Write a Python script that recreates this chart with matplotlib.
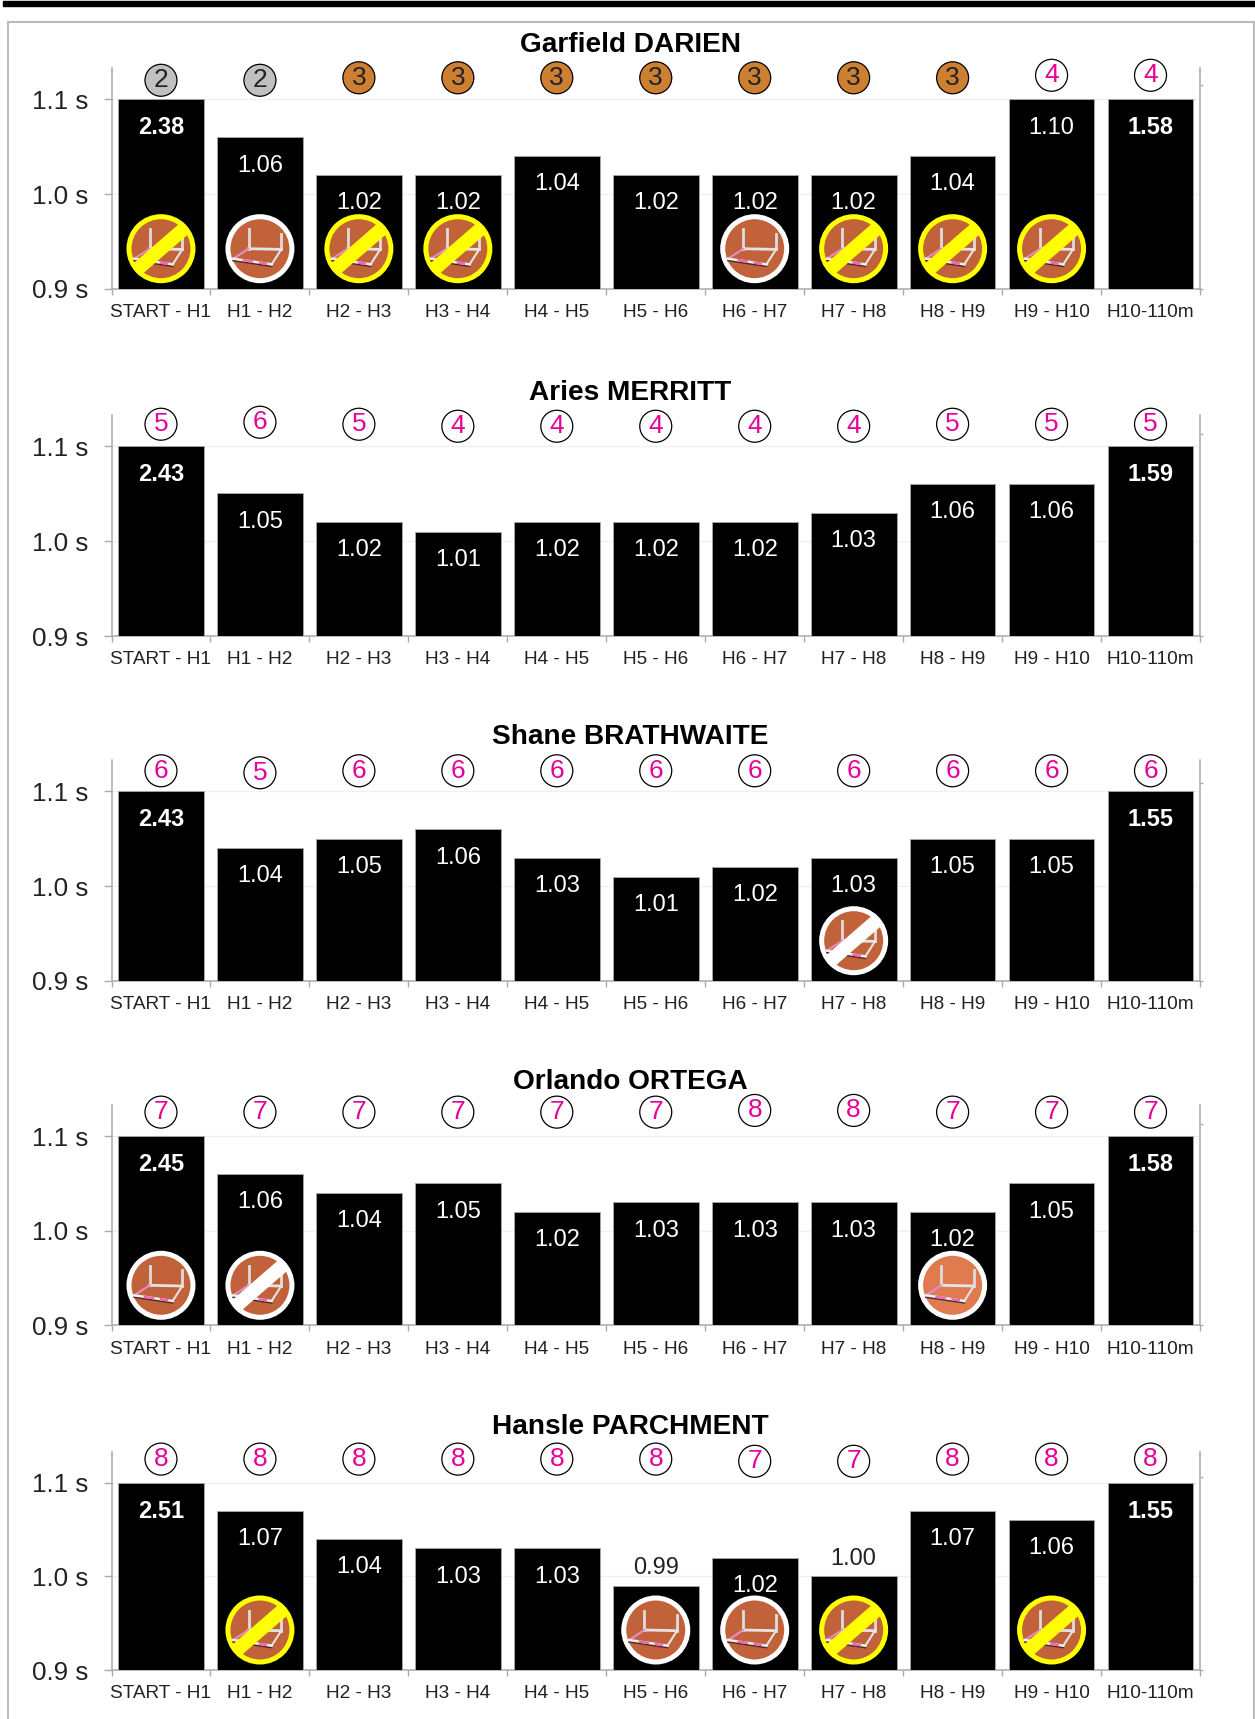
import numpy as np
import matplotlib.pyplot as plt
from matplotlib.lines import Line2D
from matplotlib.patches import Circle, Rectangle
from matplotlib.transforms import Affine2D

plt.rcParams['font.family'] = ['Liberation Sans', 'DejaVu Sans']

segments = ["START - H1", "H1 - H2", "H2 - H3", "H3 - H4", "H4 - H5", "H5 - H6",
            "H6 - H7", "H7 - H8", "H8 - H9", "H9 - H10", "H10-110m"]
names = ["Garfield DARIEN", "Aries MERRITT", "Shane BRATHWAITE", "Orlando ORTEGA", "Hansle PARCHMENT"]

times_darien = [2.38, 1.06, 1.02, 1.02, 1.04, 1.02, 1.02, 1.02, 1.04, 1.10, 1.58]
times_merritt = [2.43, 1.05, 1.02, 1.01, 1.02, 1.02, 1.02, 1.03, 1.06, 1.06, 1.59]
times_brathwaite = [2.43, 1.04, 1.05, 1.06, 1.03, 1.01, 1.02, 1.03, 1.05, 1.05, 1.55]
times_ortega = [2.45, 1.06, 1.04, 1.05, 1.02, 1.03, 1.03, 1.03, 1.02, 1.05, 1.58]
times_parchment = [2.51, 1.07, 1.04, 1.03, 1.03, 0.99, 1.02, 1.00, 1.07, 1.06, 1.55]

ranks_darien = [2, 2, 3, 3, 3, 3, 3, 3, 3, 4, 4]
ranks_merritt = [5, 6, 5, 4, 4, 4, 4, 4, 5, 5, 5]
ranks_brathwaite = [6, 5, 6, 6, 6, 6, 6, 6, 6, 6, 6]
ranks_ortega = [7, 7, 7, 7, 7, 7, 8, 8, 7, 7, 7]
ranks_parchment = [8, 8, 8, 8, 8, 8, 7, 7, 8, 8, 8]

# p = hurdle hit, l = same with lighter track, y = yellow slash, w = white slash
hurdles_darien = ["y", "p", "y", "y", "", "", "p", "y", "y", "y", ""]
hurdles_merritt = [""] * 11
hurdles_brathwaite = ["", "", "", "", "", "", "", "w", "", "", ""]
hurdles_ortega = ["p", "w", "", "", "", "", "", "", "l", "", ""]
hurdles_parchment = ["", "y", "", "", "", "p", "p", "y", "", "y", ""]

all_times = [times_darien, times_merritt, times_brathwaite, times_ortega, times_parchment]
all_ranks = [ranks_darien, ranks_merritt, ranks_brathwaite, ranks_ortega, ranks_parchment]
all_hurdles = [hurdles_darien, hurdles_merritt, hurdles_brathwaite, hurdles_ortega, hurdles_parchment]

# layout in pixels of the 1255x1719 picture
W, H = 1255, 1719
base_px = [288.7, 636, 980.7, 1325.3, 1670]
top_bar_px = [99.3, 446, 791.3, 1136, 1482.7]
title_px = [45, 393, 737, 1082, 1427]
rank_lims = [(-81.5, 6.8), (-100.5, 9.6), (-99.1, 11.25), (-118.6, 11.2), (-88.9, 11.4)]

GREY = "#aaaaaa"
PINK = "#e6009a"
medal = {2: "#c0c0c0", 3: "#cd7f32"}


def draw_hurdle(ax, x, y, kind):
    # icon is built in pixels around its centre
    cx, cy = ax.transData.transform((x, y))
    tr = Affine2D().translate(cx, cy)
    track = "#e07a4f" if kind == "l" else "#c2623b"
    ring = "#ffff00" if kind == "y" else "white"
    disc = Circle((0, 0), 32, facecolor=track, edgecolor=ring, linewidth=3.6,
                  transform=tr, zorder=5, clip_on=False)
    ax.add_artist(disc)
    parts = [([-26.7, 11.7], [-11.8, -17.5], "#4a2a20", 1.3),
             ([-11.3, -11.3], [19.3, 0], "#dddddd", 2),
             ([21.3, 21.3], [15, -0.7], "#dddddd", 2),
             ([-11.3, 21.3], [0, -0.7], "#e4e4e4", 2),
             ([21.3, 11.7], [-0.7, -15.7], "#e4e4e4", 1.5),
             ([-11.3, -26.7], [0, -10], "#e88bc8", 1.5),
             ([-26.7, 11.7], [-10, -15.7], "#eeeeee", 1.8),
             ([-16, -8], [-11.6, -12.8], "#ee66bb", 1.8),
             ([0, 6], [-14, -14.9], "#ee66bb", 1.8)]
    for xs, ys, col, lw in parts:
        ax.add_artist(Line2D(xs, ys, color=col, linewidth=lw, transform=tr, zorder=6, clip_on=False))
    if kind in ("y", "w"):
        slash = Line2D([-30, 30], [-26, 26], color=ring, linewidth=10, transform=tr,
                       zorder=7, solid_capstyle="butt")
        ax.add_artist(slash)
        slash.set_clip_path(Circle((0, 0), 32, transform=tr))


fig = plt.figure(figsize=(W / 100, H / 100), dpi=100)
fig.add_artist(Rectangle((8 / W, -0.01), (1254 - 8) / W, 1.01 - 22 / H, fill=False,
                         edgecolor="#bbbbbb", linewidth=1.5, transform=fig.transFigure))
fig.add_artist(Rectangle((3 / W, 1 - 6 / H), 1, 5 / H, color="black", transform=fig.transFigure))

x = np.arange(len(segments))
for n in range(5):
    times = np.array(all_times[n])
    ranks = np.array(all_ranks[n])
    base, bar_top = base_px[n], top_bar_px[n]
    spine_top = bar_top - 31
    ax = fig.add_axes([111.5 / W, 1 - base / H, (1200 - 111.5) / W, (base - spine_top) / H])
    ax.set_xlim(-0.5, 10.5)
    ax.set_ylim(0.9, 0.9 + 0.2 * (base - spine_top) / (base - bar_top))

    ax.bar(x, np.minimum(times, 1.1), width=0.866, color="black", edgecolor=GREY, linewidth=0.6, zorder=3)

    ax.set_yticks([0.9, 1.0, 1.1], ["0.9 s", "1.0 s", "1.1 s"], fontsize=18.7, color="#222222")
    ax.set_xticks(x, segments, fontsize=13.7, color="#222222")
    ax.set_xticks(np.r_[-0.5, x + 0.5], minor=True)
    ax.tick_params(axis="x", which="major", length=0, pad=11)
    ax.tick_params(axis="x", which="minor", length=4, width=1, color=GREY)
    ax.tick_params(axis="y", length=6, width=1, color=GREY, pad=11)
    ax.grid(axis="y", color="#f0f0f0", linewidth=1)
    ax.set_axisbelow(True)
    ax.spines["top"].set_visible(False)
    ax.spines["right"].set_visible(False)
    ax.spines["left"].set_color(GREY)
    ax.spines["bottom"].set_color(GREY)
    ax.spines["left"].set_linewidth(1.1)
    ax.spines["bottom"].set_linewidth(1.1)

    for i, kind in enumerate(all_hurdles[n]):
        if kind:
            icon_y = 0.9 + 0.2 * 40 / (base - bar_top)
            draw_hurdle(ax, i, icon_y, kind)

    for i, t in enumerate(times):
        bold = i in (0, 10)
        shown = min(t, 1.1)
        if t > 1.005:
            off, col = -20.4, "white"
        else:
            off, col = 12.8, "#222222"
        ax.annotate(f"{t:.2f}", (i, shown), xytext=(0, off), textcoords="offset points",
                    ha="center", va="center", fontsize=17, color=col,
                    fontweight="bold" if bold else "normal", zorder=8)

    # positions in the race, on their own axis
    ax2 = ax.twinx()
    ax2.set_ylim(*rank_lims[n])
    ax2.set_yticks([rank_lims[n][0], 0], ["", ""])
    ax2.tick_params(axis="y", length=2.5, width=1, color=GREY)
    for side in ("top", "left", "bottom"):
        ax2.spines[side].set_visible(False)
    ax2.spines["right"].set_color(GREY)
    ax2.spines["right"].set_linewidth(1.1)
    colors = [medal.get(r, "white") for r in ranks]
    ax2.scatter(x, ranks, s=530, c=colors, edgecolors="black", linewidths=0.9, clip_on=False, zorder=3)
    for i, r in enumerate(ranks):
        ax2.text(i, r, str(r), ha="center", va="center", fontsize=19,
                 color="#222222" if r in medal else PINK, zorder=4)

    fig.text(630 / W, 1 - title_px[n] / H, names[n], ha="center", va="center",
             fontsize=20.2, fontweight="bold", color="black")

fig.savefig("out.png", dpi=100)
plt.close(fig)
